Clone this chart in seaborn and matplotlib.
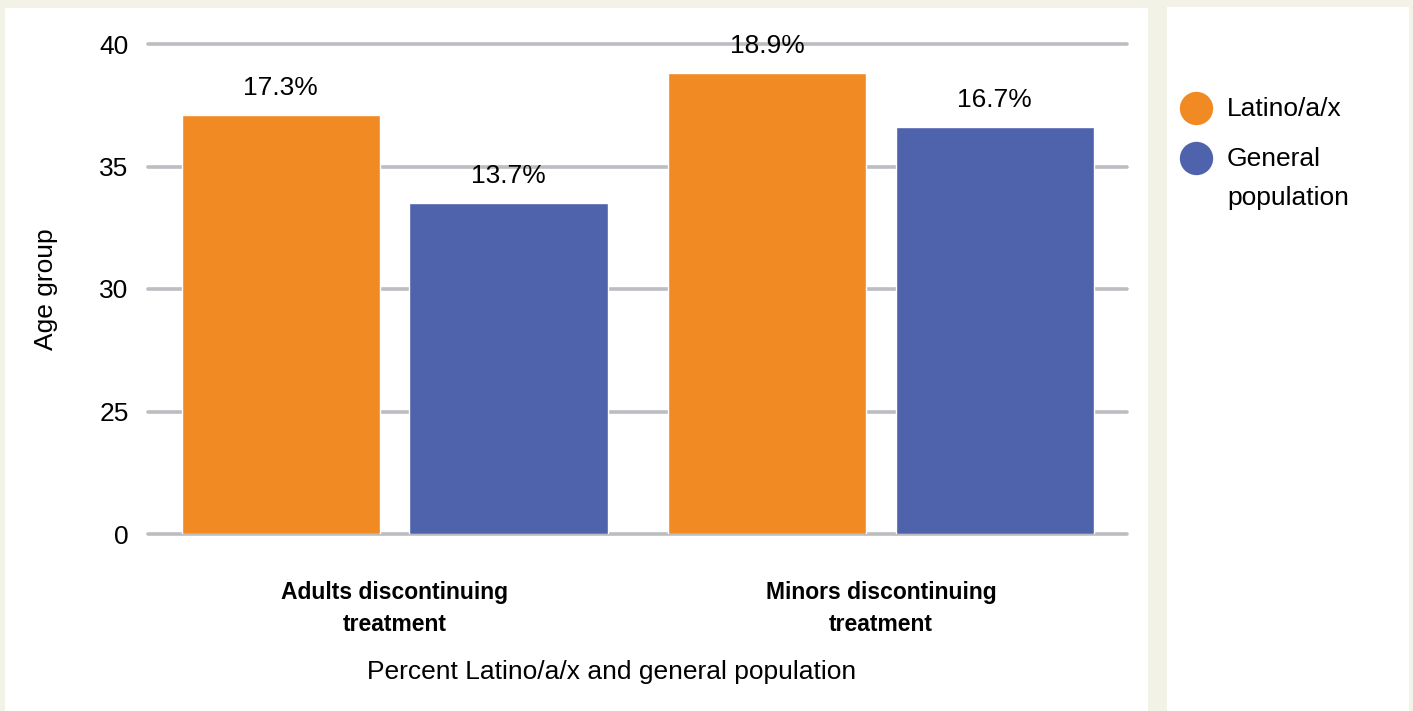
import numpy as np
import pandas as pd
import matplotlib
matplotlib.use("Agg")
import matplotlib.pyplot as plt
import seaborn as sns
from matplotlib.patches import Rectangle
from matplotlib.lines import Line2D

# ---- data ----
groups = ["Adults discontinuing\ntreatment", "Minors discontinuing\ntreatment"]
series = ["Latino/a/x", "General population"]
latino_values = [37.1, 38.8]
general_values = [33.5, 36.6]
latino_labels = ["17.3%", "18.9%"]
general_labels = ["13.7%", "16.7%"]
y_ticks = [0, 25, 30, 35, 40]
colors = ["#F28A24", "#4F62AC"]

df = pd.DataFrame({
    "group": groups * 2,
    "series": [series[0]] * 2 + [series[1]] * 2,
    "value": latino_values + general_values,
})

sns.set_theme(style="white")
plt.rcParams["font.family"] = ["Liberation Sans", "DejaVu Sans"]
plt.rcParams["text.color"] = "black"

W, H = 1413, 711
FS = 19
fig = plt.figure(figsize=(W / 100, H / 100), dpi=100)
fig.patch.set_facecolor("#F2F2E6")
# white panels
fig.patches.append(Rectangle((5 / W, 0), (1148 - 5) / W, 1 - 8 / H,
                             transform=fig.transFigure, facecolor="white",
                             edgecolor="none", zorder=-10))
fig.patches.append(Rectangle((1167 / W, 0), (1409 - 1167) / W, 1 - 7 / H,
                             transform=fig.transFigure, facecolor="white",
                             edgecolor="none", zorder=-10))

ax = fig.add_axes([148 / W, 1 - 534 / H, (1127 - 148) / W, (534 - 44) / H])
ax.set_facecolor("none")


def fwd(v):
    v = np.asarray(v, dtype=float)
    return np.where(v <= 25, v / 25.0, 1 + (v - 25) / 5.0)


def inv(p):
    p = np.asarray(p, dtype=float)
    return np.where(p <= 1, p * 25.0, 25 + (p - 1) * 5.0)


sns.barplot(data=df, x="group", y="value", hue="series", hue_order=series,
            palette=colors, width=0.937, gap=0.13, saturation=1,
            ax=ax, legend=False, errorbar=None)

ax.set_yscale("function", functions=(fwd, inv))
ax.set_ylim(0, 40)
ax.set_yticks(y_ticks)
ax.set_yticklabels([str(t) for t in y_ticks])
ax.set_xlim(-0.507, 1.506)

ax.set_axisbelow(True)
ax.yaxis.grid(True, color="#BBBDC0", linewidth=2.6)
for gl in ax.get_ygridlines():
    gl.set_clip_on(False)
ax.xaxis.grid(False)
for s in ax.spines.values():
    s.set_visible(False)

ax.tick_params(axis="y", length=0, pad=14, labelsize=FS, labelcolor="black")
ax.tick_params(axis="x", length=0, pad=34, labelsize=16.5, labelcolor="black")
for lbl in ax.get_xticklabels():
    lbl.set_fontweight("bold")
    lbl.set_linespacing(1.5)

for cont, labs in zip(ax.containers, [latino_labels, general_labels]):
    ax.bar_label(cont, labels=labs, padding=11, fontsize=FS, color="black")

ax.set_xlabel("")
ax.set_ylabel("Age group", fontsize=FS, color="black", labelpad=30)
fig.text(612 / W, 1 - 672 / H, "Percent Latino/a/x and general population",
         ha="center", va="center", fontsize=FS, color="black")

# legend (manual, in its own panel)
leg_items = [("Latino/a/x", colors[0], 108), ("General", colors[1], 158)]
for label, c, yc in leg_items:
    fig.add_artist(Line2D([1196 / W], [1 - yc / H], marker="o", linestyle="none",
                          markersize=24, markerfacecolor=c,
                          markeredgecolor="none", transform=fig.transFigure))
    fig.text(1227 / W, 1 - (yc - 1) / H, label, ha="left", va="center_baseline",
             fontsize=FS, color="black")
fig.text(1227 / W, 1 - 196 / H, "population", ha="left", va="center_baseline",
         fontsize=FS, color="black")

fig.savefig("out.png", dpi=100, facecolor=fig.get_facecolor())
